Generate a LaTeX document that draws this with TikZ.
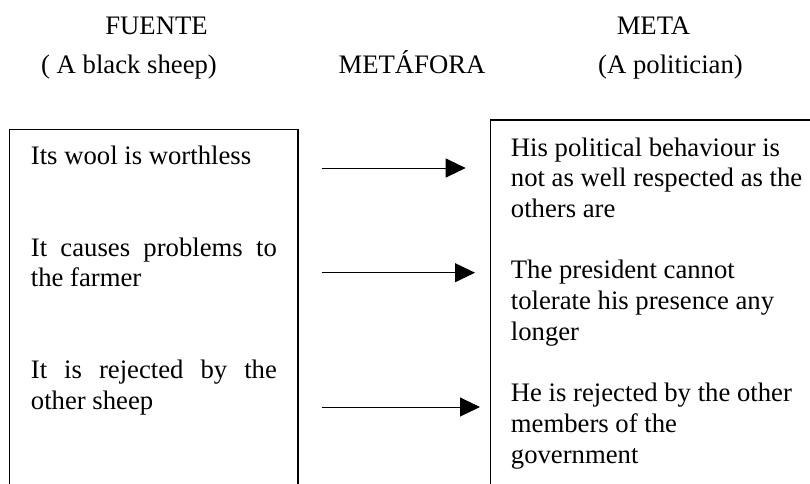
\documentclass[tikz,border=0pt]{standalone}
\usepackage{fontspec}
\setmainfont{Liberation Serif}
\usetikzlibrary{arrows.meta}
\begin{document}
\begin{tikzpicture}[x=1pt,y=-1pt,
  frame/.style={line width=1.2pt},
  link/.style={line width=1pt,-{Triangle[length=20pt,width=19pt]}},
  txt/.style={inner sep=0pt,anchor=base west,font=\fontsize{26.7}{30.7}\selectfont},
  head/.style={inner sep=0pt,anchor=base,font=\fontsize{26.7}{30.7}\selectfont}]
\useasboundingbox (0,0) rectangle (810,483);

% column headings
\node[head] (fuente) at (156.5,34) {FUENTE};
\node[head] (meta) at (653.5,34) {META};
\node[head] (src) at (129,73) {( A black sheep)};
\node[head] (metafora) at (412,73) {METÁFORA};
\node[head] (tgt) at (670.5,73) {(A politician)};

% the two open-bottomed frames
\draw[frame] (9.7,490) |- (298,129.3) -- (298,490);
\draw[frame] (490.7,490) |- (815,120);

% source domain
\node[txt] (s1) at (30.7,164) {\parbox[t]{246pt}{Its wool is worthless}};
\node[txt] (s2) at (30.7,256.1) {\parbox[t]{246pt}{\makebox[246pt][s]{It causes problems to}\\the farmer}};
\node[txt] (s3) at (30.7,378.9) {\parbox[t]{246pt}{\makebox[246pt][s]{It is rejected by the}\\other sheep}};

% target domain
\node[txt] (t1) at (510.7,156) {\parbox[t]{300pt}{His political behaviour is\\not as well respected as the\\others are}};
\node[txt] (t2) at (510.7,278.8) {\parbox[t]{300pt}{The president cannot\\tolerate his presence any\\longer}};
\node[txt] (t3) at (510.7,401.6) {\parbox[t]{300pt}{He is rejected by the other\\members of the\\government}};

% mapping arrows
\coordinate (a1s) at (321.7,168);
\coordinate (a1e) at (465.7,168);
\coordinate (a2s) at (321.7,272.7);
\coordinate (a2e) at (475,272.7);
\coordinate (a3s) at (321.7,407);
\coordinate (a3e) at (480,407);
\draw[link] (a1s) -- (a1e);
\draw[link] (a2s) -- (a2e);
\draw[link] (a3s) -- (a3e);
\end{tikzpicture}
\end{document}
